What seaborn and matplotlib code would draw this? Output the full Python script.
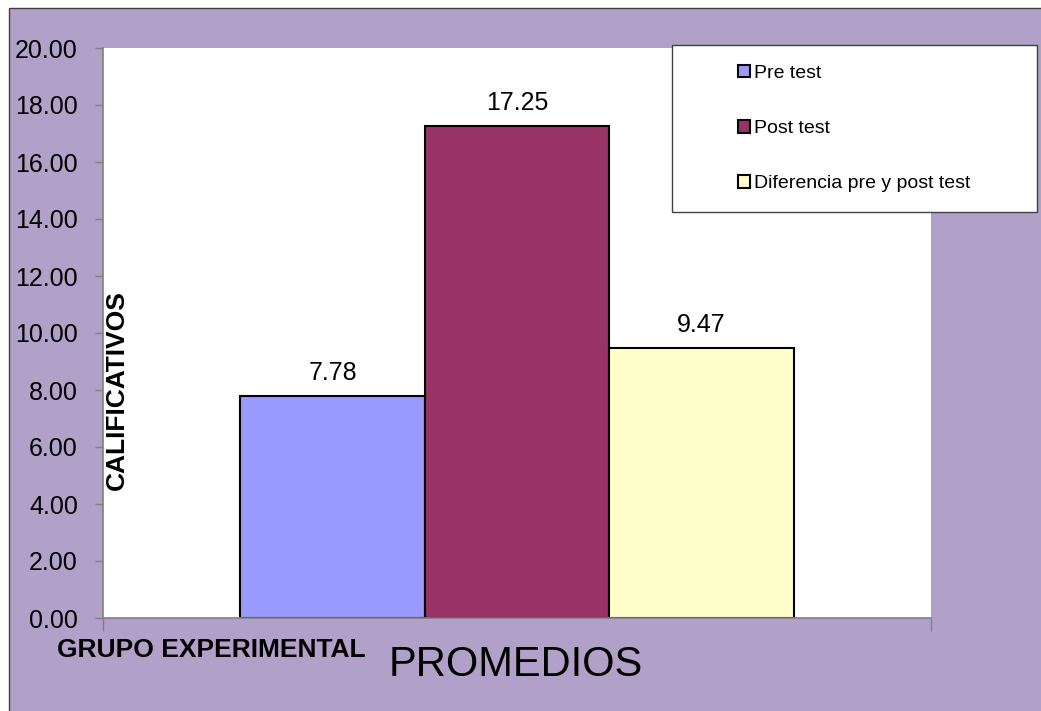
import pandas as pd
import numpy as np
import matplotlib
matplotlib.use('Agg')
import matplotlib.pyplot as plt
from matplotlib.patches import Rectangle
import seaborn as sns

# Datos del grafico
grupo = 'PROMEDIOS'
series = ['Pre test', 'Post test', 'Diferencia pre y post test']
valores = [7.78, 17.25, 9.47]
colores = ['#9999FF', '#993366', '#FFFFCC']
yticks = np.arange(0, 21, 2)

df = pd.DataFrame({'grupo': [grupo] * len(series), 'serie': series, 'valor': valores})

sns.set_style('white')
plt.rcParams['font.family'] = ['Liberation Sans', 'DejaVu Sans']
plt.rcParams['text.color'] = 'black'
plt.rcParams['xtick.labelcolor'] = 'black'
plt.rcParams['ytick.labelcolor'] = 'black'

fig = plt.figure(figsize=(10.41, 7.11), dpi=100)
fig.patch.set_facecolor('white')

# fondo morado del area del grafico
fondo = Rectangle((9 / 1041, -0.1), 1.2, (1 - 8 / 711) + 0.1, transform=fig.transFigure,
                  facecolor='#B1A0C7', edgecolor='#404040', linewidth=1, zorder=-1)
fig.add_artist(fondo)

ax = fig.add_axes([103 / 1041, 93 / 711, 828 / 1041, 570 / 711])
ax.set_facecolor('white')

sns.barplot(data=df, x='grupo', y='valor', hue='serie', palette=colores, width=0.668,
            saturation=1, edgecolor='black', linewidth=1.5, ax=ax)

for cont in ax.containers:
    ax.bar_label(cont, fmt='%.2f', padding=8, fontsize=18, color='black')

ax.set_xlim(-0.5, 0.5)
ax.set_ylim(0, 20)
ax.set_yticks(yticks)
ax.yaxis.set_major_formatter(matplotlib.ticker.StrMethodFormatter('{x:.2f}'))
ax.set_xticks([-0.5, 0.5])
ax.set_xticklabels(['', ''])
ax.tick_params(axis='y', direction='out', length=6, color='#808080', width=1, pad=12,
               labelsize=18, labelcolor='black', left=True)
ax.tick_params(axis='x', direction='out', length=9, color='#808080', width=1, bottom=True)
ax.set_xlabel('')
ax.set_ylabel('')
for lado in ['top', 'right']:
    ax.spines[lado].set_visible(False)
for lado in ['left', 'bottom']:
    ax.spines[lado].set_color('#808080')
    ax.spines[lado].set_linewidth(1.2)

# leyenda con su marco aparte
handles, labels = ax.get_legend_handles_labels()
ax.get_legend().remove()
marco = Rectangle((672 / 1041, 1 - 212 / 711), 365 / 1041, 167 / 711, transform=fig.transFigure,
                  facecolor='white', edgecolor='#404040', linewidth=1, zorder=2)
fig.add_artist(marco)
fig.legend(handles, labels, loc='center', bbox_to_anchor=(854 / 1041, 1 - 128.5 / 711),
           frameon=False, fontsize=14, handlelength=0.62, handleheight=0.62,
           handletextpad=0.2, labelspacing=1.95, borderpad=0, labelcolor='black')

# textos
fig.text(117 / 1041, 1 - 390 / 711, 'CALIFICATIVOS', rotation=90, fontsize=19,
         fontweight='bold', ha='center', va='center', color='black')
fig.text(211 / 1041, 1 - 650 / 711, 'GRUPO EXPERIMENTAL', fontsize=19,
         fontweight='bold', ha='center', va='center', color='black')
fig.text(516 / 1041, 1 - 665 / 711, 'PROMEDIOS', fontsize=30, ha='center', va='center',
         color='black')

fig.savefig('out.png', dpi=100)
